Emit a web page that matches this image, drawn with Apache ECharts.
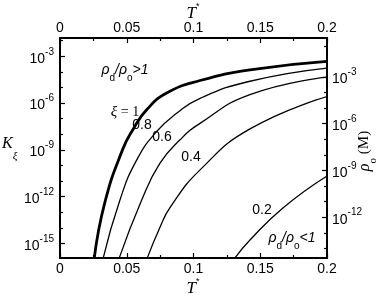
<!DOCTYPE html>
<html><head><meta charset="utf-8">
<script src="https://cdn.jsdelivr.net/npm/echarts@6/dist/echarts.min.js"></script>
<style>html,body{margin:0;padding:0;background:#fff}#c{width:382px;height:299px}</style>
</head><body><div id="c"></div>
<script>
// x tick labels (T*)
const xTicks = [0, 0.05, 0.1, 0.15, 0.2];
// left axis K_xi major tick exponents (10^n)
const leftMajorExp = [-15, -12, -9, -6, -3];
// right axis rho_o (M) major tick exponents
const rightMajorExp = [-12, -9, -6, -3];

// curves K_xi(T*) for xi = 1, 0.8, 0.6, 0.4, 0.2
const T_xi10 = [0.0257, 0.0337, 0.0468, 0.0549, 0.0649, 0.0799, 0.1049, 0.1423, 0.2];
const K_xi10 = [1.2e-16, 4.6e-13, 1.0e-9, 2.2e-8, 3.7e-7, 4.4e-6, 2.8e-5, 1.35e-4, 4.7e-4];
const T_xi08 = [0.0324, 0.0449, 0.0575, 0.0724, 0.0874, 0.1049, 0.1423, 0.2];
const K_xi08 = [1.2e-16, 6.2e-13, 2.3e-10, 1.5e-8, 2.2e-7, 2.0e-6, 2.5e-5, 1.74e-4];
const T_xi06 = [0.0444, 0.0612, 0.0749, 0.0899, 0.1049, 0.1423, 0.2];
const K_xi06 = [1.2e-16, 6.2e-13, 1.4e-10, 4.4e-9, 5.0e-8, 3.5e-6, 4.6e-5];
const T_xi04 = [0.0654, 0.0749, 0.0824, 0.1049, 0.1423, 0.2];
const K_xi04 = [1.2e-16, 1.1e-14, 2.0e-13, 5.2e-11, 2.2e-8, 2.6e-6];
const T_xi02 = [0.1311, 0.1423, 0.167, 0.2];
const K_xi02 = [1.2e-16, 1.66e-15, 1.9e-13, 2.1e-11];

const sans = '"Liberation Sans", Arial, sans-serif';
const serif = '"Liberation Serif", "Times New Roman", serif';

function toPairs(T, K) { return T.map((t, i) => [t, Math.log10(K[i])]); }
function minors(lo, hi, major) { const a = []; for (let i = lo; i <= hi; i++) if (major.indexOf(i) < 0) a.push(i); return a; }
const richExp = {
  b: { fontSize: 14, fontFamily: sans, color: '#000', lineHeight: 19, verticalAlign: 'bottom' },
  s: { fontSize: 10, fontFamily: sans, color: '#000', lineHeight: 10, verticalAlign: 'top' }
};
const expFmt = v => '{b|10}{s|' + v + '}';

const LMIN = -15.93, LMAX = -1.83, RMIN = -14.62, RMAX = -0.50;

function xAxisDef(pos) {
  return {
    type: 'value', position: pos, min: 0, max: 0.2, interval: 0.05,
    axisLine: { show: true, onZero: false, lineStyle: { color: '#000', width: 2 } },
    axisTick: { show: true, inside: true, length: 5, lineStyle: { color: '#000', width: 1.2 } },
    minorTick: { show: true, splitNumber: 2, length: 3, lineStyle: { color: '#000', width: 1.2 } },
    axisLabel: { color: '#000', fontSize: 14, fontFamily: sans, margin: pos === 'top' ? 3 : 4,
      customValues: xTicks, formatter: v => String(v) },
    splitLine: { show: false }
  };
}
function yAxisDef(pos, min, max, vals, showLine, len, labels) {
  return {
    type: 'value', position: pos, min: min, max: max,
    axisLine: { show: showLine, onZero: false, lineStyle: { color: '#000', width: 2 } },
    axisTick: { show: true, inside: true, length: len, customValues: vals, lineStyle: { color: '#000', width: 1.2 } },
    axisLabel: { show: labels, customValues: vals, formatter: expFmt, rich: richExp, margin: pos === 'left' ? 6 : 5 },
    splitLine: { show: false }
  };
}

function lineSeries(T, K, w) {
  return { type: 'line', xAxisIndex: 0, yAxisIndex: 0, data: toPairs(T, K), symbol: 'none',
    smooth: 0.5, clip: true, lineStyle: { color: '#000', width: w }, silent: true };
}

const chart = echarts.init(document.getElementById('c'));
chart.setOption({
  animation: false,
  backgroundColor: '#fff',
  grid: { left: 60, right: 55, top: 38, bottom: 41, containLabel: false },
  xAxis: [xAxisDef('bottom'), xAxisDef('top')],
  yAxis: [
    yAxisDef('left', LMIN, LMAX, leftMajorExp, true, 5, true),
    yAxisDef('left', LMIN, LMAX, minors(-15, -2, leftMajorExp), false, 3, false),
    yAxisDef('right', RMIN, RMAX, rightMajorExp, true, 5, true),
    yAxisDef('right', RMIN, RMAX, minors(-14, -1, rightMajorExp), false, 3, false)
  ],
  series: [
    lineSeries(T_xi10, K_xi10, 2.8),
    lineSeries(T_xi08, K_xi08, 1.3),
    lineSeries(T_xi06, K_xi06, 1.3),
    lineSeries(T_xi04, K_xi04, 1.3),
    lineSeries(T_xi02, K_xi02, 1.3)
  ],
  graphic: [
    { type: 'text', x: 193, y: 287, style: { text: '{t|T}{s|*}', align: 'center', verticalAlign: 'middle',
      rich: { t: { fontFamily: serif, fontStyle: 'italic', fontSize: 17, lineHeight: 20, verticalAlign: 'bottom', fill: '#000' },
              s: { fontFamily: sans, fontSize: 9, lineHeight: 9, verticalAlign: 'top', fill: '#000' } } } },
    { type: 'text', x: 193, y: 12, style: { text: '{t|T}{s|*}', align: 'center', verticalAlign: 'middle',
      rich: { t: { fontFamily: serif, fontStyle: 'italic', fontSize: 17, lineHeight: 20, verticalAlign: 'bottom', fill: '#000' },
              s: { fontFamily: sans, fontSize: 9, lineHeight: 9, verticalAlign: 'top', fill: '#000' } } } },
    { type: 'text', x: 2, y: 149, style: { text: '{k|K}{x|ξ}', align: 'left', verticalAlign: 'middle',
      rich: { k: { fontFamily: serif, fontStyle: 'italic', fontSize: 16, lineHeight: 16, verticalAlign: 'top', fill: '#000' },
              x: { fontFamily: serif, fontStyle: 'italic', fontSize: 11, lineHeight: 26, verticalAlign: 'bottom', fill: '#000' } } } },
    { type: 'text', x: 368, y: 151, rotation: Math.PI / 2, style: { text: '{r|ρ}{o|o}{m| (M)}', align: 'center', verticalAlign: 'middle',
      rich: { r: { fontFamily: serif, fontStyle: 'italic', fontSize: 16, lineHeight: 18, verticalAlign: 'top', fill: '#000' },
              o: { fontFamily: serif, fontSize: 11, lineHeight: 22, verticalAlign: 'bottom', fill: '#000' },
              m: { fontFamily: serif, fontSize: 15, lineHeight: 18, verticalAlign: 'top', fill: '#000' } } } },
    { type: 'text', x: 125, y: 73, style: { text: '{r|ρ}{d|d}{r|/ρ}{d|o}{r|>1}', align: 'center', verticalAlign: 'middle',
      rich: { r: { fontFamily: sans, fontStyle: 'italic', fontSize: 14, lineHeight: 16, verticalAlign: 'top', fill: '#000' },
              d: { fontFamily: sans, fontSize: 10, lineHeight: 20, verticalAlign: 'bottom', fill: '#000' } } } },
    { type: 'text', x: 292, y: 241, style: { text: '{r|ρ}{d|d}{r|/ρ}{d|o}{r|<1}', align: 'center', verticalAlign: 'middle',
      rich: { r: { fontFamily: sans, fontStyle: 'italic', fontSize: 14, lineHeight: 16, verticalAlign: 'top', fill: '#000' },
              d: { fontFamily: sans, fontSize: 10, lineHeight: 20, verticalAlign: 'bottom', fill: '#000' } } } },
    { type: 'text', x: 125, y: 112, style: { text: '{x|ξ} = 1', align: 'center', verticalAlign: 'middle', font: '14px ' + serif, fill: '#000',
      rich: { x: { fontFamily: serif, fontStyle: 'italic', fontSize: 15, fill: '#000' } } } },
    { type: 'text', x: 142, y: 125, style: { text: '0.8', align: 'center', verticalAlign: 'middle', font: '14px ' + sans, fill: '#000' } },
    { type: 'text', x: 162, y: 137, style: { text: '0.6', align: 'center', verticalAlign: 'middle', font: '14px ' + sans, fill: '#000' } },
    { type: 'text', x: 191, y: 157, style: { text: '0.4', align: 'center', verticalAlign: 'middle', font: '14px ' + sans, fill: '#000' } },
    { type: 'text', x: 262, y: 210, style: { text: '0.2', align: 'center', verticalAlign: 'middle', font: '14px ' + sans, fill: '#000' } }
  ]
});
</script></body></html>
